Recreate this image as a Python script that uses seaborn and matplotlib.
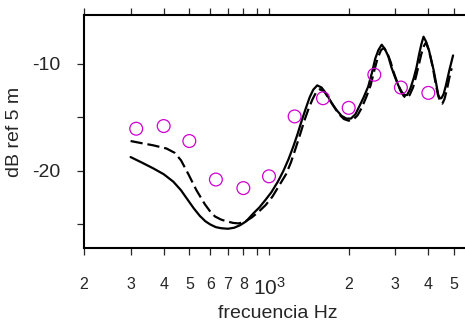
import matplotlib
matplotlib.use("Agg")
import matplotlib.pyplot as plt
import matplotlib.ticker as mticker
import seaborn as sns
import pandas as pd

# ---- data ----
meas_freq = [315, 400, 500, 630, 800, 1000, 1250, 1600, 2000, 2500, 3150, 4000]
meas_db = [-16.05, -15.8, -17.2, -20.8, -21.6, -20.5, -14.9, -13.2, -14.1, -11.0, -12.2, -12.7]

solid_freq = [300, 330, 365, 400, 435, 465, 490, 520, 548, 575, 600, 630, 660, 700, 740,
              780, 820, 870, 920, 970, 1020, 1080, 1133, 1185, 1236, 1280, 1325, 1375,
              1425, 1470, 1521, 1580, 1649, 1720, 1799, 1880, 1960, 2040, 2120, 2190,
              2280, 2371, 2450, 2520, 2590, 2666, 2740, 2825, 2900, 2990, 3080, 3170,
              3250, 3325, 3420, 3524, 3610, 3690, 3760, 3835, 3920, 4020, 4100, 4190,
              4280, 4360, 4420, 4480, 4570, 4660, 4800, 4960]
solid_db = [-18.7, -19.2, -19.75, -20.3, -21.0, -21.8, -22.6, -23.5, -24.2, -24.7, -25.0,
            -25.25, -25.35, -25.4, -25.3, -25.05, -24.7, -24.0, -23.4, -22.7, -22.0, -21.0,
            -20.0, -18.9, -17.7, -16.6, -15.4, -14.2, -13.1, -12.4, -12.0, -12.2, -12.8,
            -13.6, -14.3, -14.85, -15.1, -15.1, -14.7, -14.0, -13.1, -12.1, -10.8, -9.5,
            -8.7, -8.2, -8.6, -9.3, -10.3, -11.2, -12.0, -12.6, -12.9, -12.9, -12.3, -11.3,
            -10.3, -9.1, -8.2, -7.45, -7.9, -8.7, -9.6, -10.6, -11.8, -12.9, -13.2, -13.2,
            -12.8, -12.0, -10.6, -9.2]

dash_freq = [300, 330, 365, 410, 440, 465, 496, 532, 572, 600, 625, 660, 692, 730, 768,
             810, 860, 910, 970, 1030, 1090, 1160, 1210, 1260, 1310, 1360, 1410, 1460,
             1510, 1560, 1620, 1690, 1760, 1840, 1920, 2000, 2080, 2160, 2240, 2330, 2420,
             2500, 2570, 2650, 2720, 2800, 2880, 2960, 3050, 3140, 3230, 3310, 3400, 3500,
             3590, 3680, 3760, 3850, 3920, 4000, 4080, 4170, 4260, 4350, 4430, 4520, 4600,
             4700, 4800, 4900]
dash_db = [-17.2, -17.4, -17.6, -17.9, -18.3, -19.0, -20.3, -21.8, -23.1, -23.8, -24.25,
           -24.55, -24.7, -24.85, -24.9, -24.75, -24.35, -23.85, -23.2, -22.4, -21.4, -20.3,
           -19.2, -17.9, -16.6, -15.3, -14.2, -13.3, -12.6, -12.35, -12.6, -13.3, -14.0,
           -14.7, -15.15, -15.3, -15.2, -14.8, -14.1, -13.1, -12.0, -10.6, -9.5, -8.7, -8.5,
           -9.0, -9.8, -10.8, -11.7, -12.5, -13.0, -13.2, -12.9, -12.2, -11.2, -10.1, -9.1,
           -8.3, -8.0, -8.6, -9.4, -10.5, -11.8, -12.9, -13.5, -13.7, -13.3, -12.4, -11.3,
           -10.4]

x_ticks = [200, 300, 400, 500, 600, 700, 800, 900, 1000, 2000, 3000, 4000, 5000]
x_labels = ["2", "3", "4", "5", "6", "7", "8", "", "$\\mathregular{10^{3}}$", "2", "3", "4", "5"]
y_ticks = [-25, -20, -15, -10]
y_labels = ["", "-20", "", "-10"]

sns.set_style("ticks")
plt.rcParams["font.family"] = ["Liberation Sans", "DejaVu Sans"]

fig = plt.figure(figsize=(4.65, 3.24), dpi=100)
ax = fig.add_axes([84 / 465, 1 - 247.7 / 324, 1 - 84 / 465, (247.7 - 15.3) / 324])

df_s = pd.DataFrame({"f": solid_freq, "db": solid_db})
df_d = pd.DataFrame({"f": dash_freq, "db": dash_db})
df_m = pd.DataFrame({"f": meas_freq, "db": meas_db})

sns.lineplot(data=df_s, x="f", y="db", ax=ax, color="black", lw=1.6, sort=False,
             estimator=None)
sns.lineplot(data=df_d, x="f", y="db", ax=ax, color="black", lw=1.6, sort=False,
             estimator=None)
ax.lines[-1].set_dashes([5.5, 2.2])
sns.scatterplot(data=df_m, x="f", y="db", ax=ax, marker="o", s=85,
                facecolor="none", edgecolor="#D000D0", linewidth=0.9, zorder=5)

ax.set_xscale("log")
ax.set_xlim(200, 5502)
ax.set_ylim(-27.17, -5.45)

ax.xaxis.set_major_locator(mticker.FixedLocator(x_ticks))
ax.xaxis.set_major_formatter(mticker.FixedFormatter(x_labels))
ax.xaxis.set_minor_locator(mticker.NullLocator())
ax.yaxis.set_major_locator(mticker.FixedLocator(y_ticks))
ax.yaxis.set_major_formatter(mticker.FixedFormatter(y_labels))

ax.tick_params(axis="x", which="major", direction="out", length=5, width=0.9,
               labelsize=11.5, pad=16, top=True, labeltop=False)
ax.tick_params(axis="y", which="major", direction="out", length=5, width=0.9,
               labelsize=14, pad=12)
for lbl in ax.get_xticklabels():
    if "10" in lbl.get_text():
        lbl.set_fontsize(15)

for side in ["left", "bottom", "top"]:
    ax.spines[side].set_linewidth(1.5)
    ax.spines[side].set_color("black")
ax.spines["right"].set_visible(False)

ax.set_xlabel("frecuencia Hz", fontsize=14)
ax.set_ylabel("dB ref 5 m", fontsize=14)
ax.xaxis.set_label_coords((278 - 84) / (465 - 84), -(314 - 247.7) / 232.4)
ax.xaxis.label.set_va("center")
ax.yaxis.set_label_coords(-(84 - 15) / (465 - 84), 0.5)
ax.yaxis.label.set_va("center")

fig.savefig("out.png", dpi=100)
